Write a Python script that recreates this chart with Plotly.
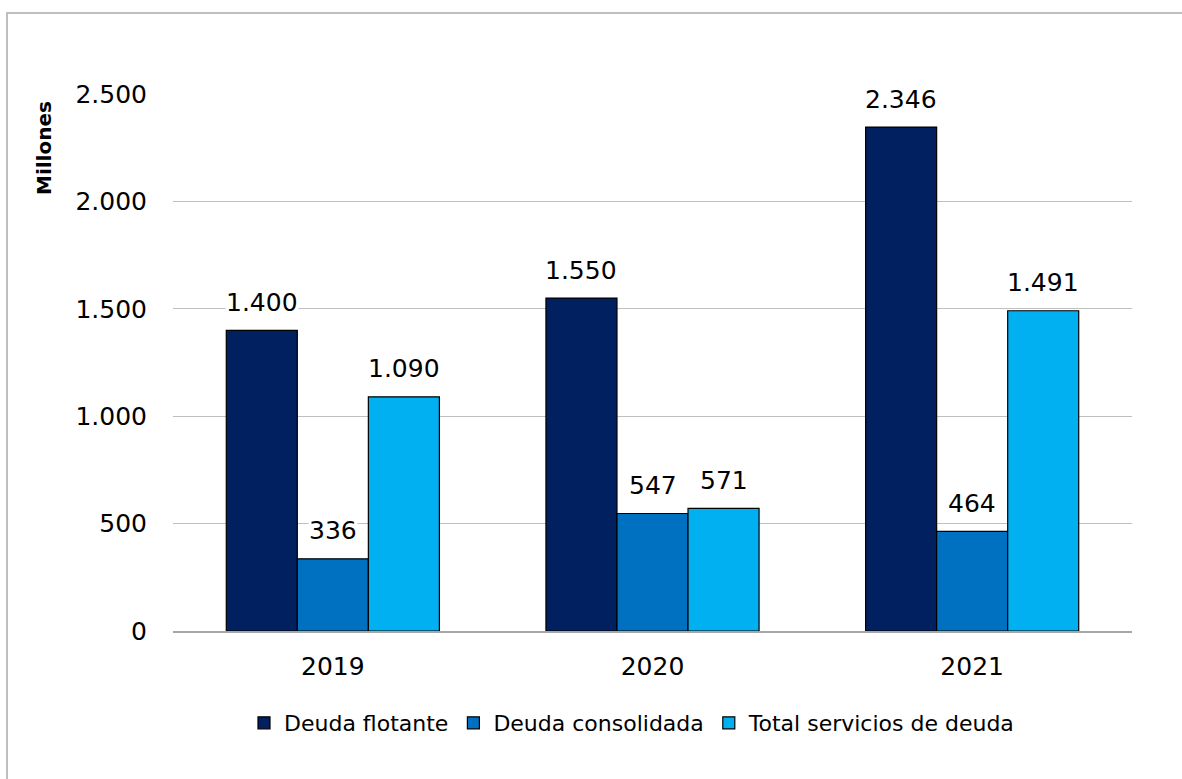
import plotly.graph_objects as go

years = ["2019", "2020", "2021"]
series_names = ["Deuda flotante", "Deuda consolidada", "Total servicios de deuda"]
deuda_flotante = [1400, 1550, 2346]
deuda_consolidada = [336, 547, 464]
total_servicios = [1090, 571, 1491]
colors = ["#002060", "#0070C0", "#00B0F0"]
y_ticks = [0, 500, 1000, 1500, 2000, 2500]

all_series = [deuda_flotante, deuda_consolidada, total_servicios]

W, H = 1182, 779
PL, PR, PT, PB = 173, 1132, 94, 631   # plot box in px
ML, MR, MT, MB = PL, W - PR, PT, H - PB
plot_w = PR - PL
plot_h = PB - PT
bargap = 1/3
bar_px = plot_w / len(years) * (1 - bargap) / len(all_series)

def px_x(x):  # pixel -> paper
    return (x - PL) / plot_w

def px_y(y):
    return (PB - y) / plot_h

def fmt(v):
    return f"{v:,}".replace(",", ".")

FONT = "DejaVu Sans"

fig = go.Figure()
for name, vals, col in zip(series_names, all_series, colors):
    fig.add_trace(go.Bar(
        x=years, y=vals, name=name,
        marker=dict(color=col, line=dict(color="#000000", width=1.2)),
        hoverinfo="skip",
    ))

annotations = []
for i, vals in enumerate(all_series):
    for j, v in enumerate(vals):
        annotations.append(dict(
            x=j, y=v, xref="x", yref="y", text=fmt(v), showarrow=False,
            xshift=(i - 1) * bar_px, yshift=28, yanchor="middle",
            font=dict(family=FONT, size=25, color="#000000"),
            bgcolor="#FFFFFF", borderpad=0,
        ))

annotations.append(dict(
    x=px_x(44), y=px_y(148), xref="paper", yref="paper",
    text="<b>Millones</b>", showarrow=False, textangle=-90,
    font=dict(family=FONT, size=20, color="#000000"),
    xanchor="center", yanchor="middle",
))

fig.update_layout(
    width=W, height=H,
    margin=dict(l=ML, r=MR, t=MT, b=MB, autoexpand=False),
    paper_bgcolor="#FFFFFF", plot_bgcolor="#FFFFFF",
    separators=",.",
    barmode="group", bargap=bargap, bargroupgap=0,
    font=dict(family=FONT, color="#000000"),
    showlegend=True,
    legend=dict(
        orientation="h", x=px_x(632), xanchor="center",
        y=px_y(723), yanchor="middle",
        font=dict(family=FONT, size=22, color="#000000"),
        itemwidth=30, bgcolor="rgba(0,0,0,0)",
    ),
    annotations=annotations,
    shapes=[dict(
        type="rect", xref="paper", yref="paper",
        x0=px_x(7), x1=1.3, y0=-0.6, y1=px_y(13),
        line=dict(color="#BFBFBF", width=2), fillcolor="rgba(0,0,0,0)", layer="below",
    )],
)

fig.update_xaxes(
    type="category", range=[-0.5, len(years) - 0.5],
    showgrid=False, showline=True, linecolor="#A6A6A6", linewidth=1.5,
    tickfont=dict(family=FONT, size=25, color="#000000"),
    ticks="", ticklabelstandoff=12,
)
fig.update_yaxes(
    range=[0, 2500], tickvals=y_ticks, ticktext=[fmt(t) for t in y_ticks],
    showgrid=True, gridcolor="#BFBFBF", gridwidth=1,
    zeroline=False, showline=False,
    tickfont=dict(family=FONT, size=25, color="#000000"),
    ticks="", ticklabelstandoff=25,
)

fig.write_html("out.html", config={"displayModeBar": False},
               post_script="document.body.style.margin='0';")
